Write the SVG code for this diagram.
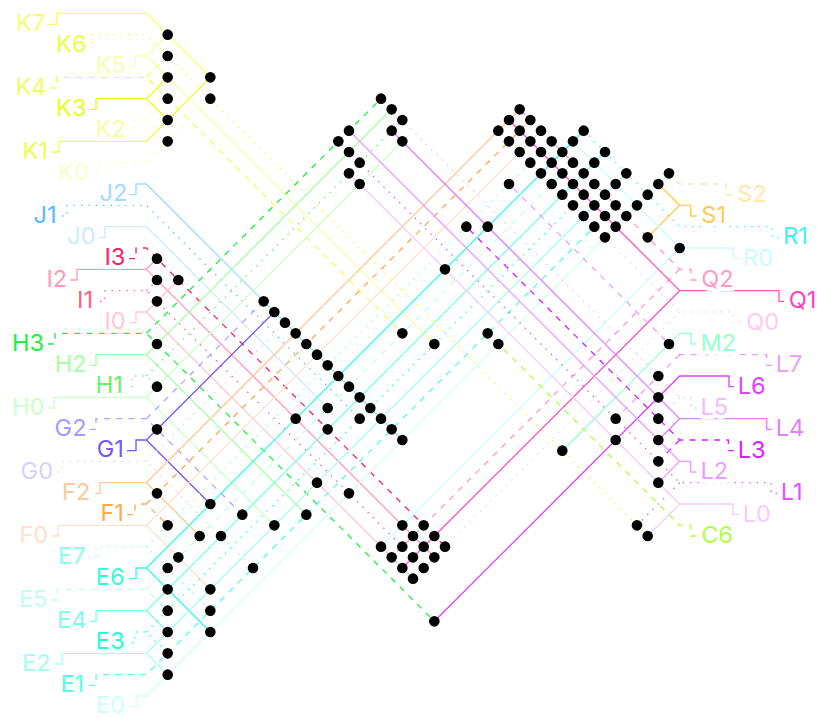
<svg xmlns="http://www.w3.org/2000/svg" width="817" height="717" viewBox="0 0 817 717">
<style>
.w{fill:none;stroke-width:1.33}
.da{stroke-dasharray:6 6.3}
.do{stroke-dasharray:1.4 6}
.j{fill:#000}
text{font-family:Inter,"Noto Sans","Liberation Sans",sans-serif;font-size:23.5px;stroke:#fff;stroke-width:8px;stroke-linejoin:round;paint-order:stroke}
</style>
<rect width="817" height="717" fill="#fff"/>
<g id="connectors">
<path class="w" stroke="#f5ff70" d="M46.7 24.3H56.7V13.33H146.33l64 64"/>
<path class="w do" stroke="#ecff40" d="M87 45.3H92V34.67H146.33l501.33 501.33"/>
<path class="w" stroke="#f7ffb0" d="M130 66.7H135.5V56H146.33l288 288M146.33 56l21.33-21.33"/>
<path class="w da" stroke="#f0ff60" d="M50 88H56.5V77.33H146.33l256 256M146.33 77.33l21.33-21.33"/>
<path class="w" stroke="#e8ff1a" d="M89.5 109.3H96V98.67H146.33l21.33 21.33M146.33 98.67l21.33-21.33"/>
<path class="w do" stroke="#f5ffa0" d="M130 130.7H134V120H146.33l21.33 21.33M146.33 120l21.33-21.33"/>
<path class="w" stroke="#ecff50" d="M51 152H59V141.33H146.33l64-64"/>
<path class="w da" stroke="#f9ffc8" d="M93 173.3H99V162.67H146.33l64-64"/>
<path class="w" stroke="#a0dcff" d="M129 194.7H136V184H146.33l256 256"/>
<path class="w do" stroke="#55bbff" d="M62 216H67V205.33H146.33l213.33 213.33"/>
<path class="w" stroke="#cdeaff" d="M98 237.3H105V226.67H146.33l181.33 181.33"/>
<path class="w da" stroke="#ff2266" d="M129 258.7H136V248H146.33l298.67 298.67"/>
<path class="w" stroke="#ff9ab8" d="M70 280H77V269.33H146.33l288 288M146.33 269.33l10.67-10.67"/>
<path class="w do" stroke="#ff5c8f" d="M100 301.3H105V290.67H146.33l277.33 277.33M146.33 290.67l10.67-10.67"/>
<path class="w" stroke="#ffc8d8" d="M129.5 322.7H136V312H146.33l266.67 266.67M146.33 312l32-32"/>
<path class="w da" stroke="#22ee44" d="M48 344H55V333.33H146.33l288 288M146.33 333.33l234.67-234.67"/>
<path class="w" stroke="#a8ffaa" d="M90 365.3H96V354.67H146.33l160 160M146.33 354.67l245.33-245.33"/>
<path class="w do" stroke="#66f066" d="M131 386.7H132V376H146.33l10.67 10.67M146.33 376l256-256"/>
<path class="w" stroke="#ccffcc" d="M48 408H54V397.33H146.33l128 128M146.33 397.33l256-256"/>
<path class="w da" stroke="#b0a4ff" d="M90 429.3H96V418.67H146.33l96 96M146.33 418.67l117.33-117.33"/>
<path class="w" stroke="#7755ee" d="M127 450.7H136V440H146.33l64 64M146.33 440l128-128"/>
<path class="w do" stroke="#d8d0ff" d="M58 472H62V461.33H146.33l106.67 106.67M146.33 461.33l138.67-138.67"/>
<path class="w" stroke="#ffc898" d="M95 493.3H100V482.67H146.33l53.33 53.33M146.33 482.67l373.33-373.33"/>
<path class="w da" stroke="#ffaa55" d="M127 514.7H135V504H146.33l21.33 21.33M146.33 504l384-384"/>
<path class="w" stroke="#ffe0cc" d="M52 536H58V525.33H146.33l64 64M146.33 525.33l394.67-394.67"/>
<path class="w do" stroke="#90ffe8" d="M89 557.3H96V546.67H146.33l64 64M146.33 546.67l405.33-405.33"/>
<path class="w" stroke="#33ffdd" d="M129 578.7H136V568H146.33l64 64M146.33 568l437.33-437.33"/>
<path class="w da" stroke="#c0fff0" d="M52 600H57V589.33H146.33l21.33 21.33M146.33 589.33l426.67-426.67"/>
<path class="w" stroke="#80ffe8" d="M90 621.3H96V610.67H146.33l21.33 21.33M146.33 610.67l458.67-458.67"/>
<path class="w do" stroke="#22ffd8" d="M132 642.7H135V632H146.33l21.33 21.33M146.33 632l448-448"/>
<path class="w" stroke="#a8fff0" d="M55 664H62V653.33H146.33l21.33 21.33M146.33 653.33l480-480"/>
<path class="w da" stroke="#55ffe0" d="M89 685.3H96V674.67H146.33l469.33-469.33"/>
<path class="w" stroke="#d0fff4" d="M129 706.7H136V696H146.33l522.67-522.67"/>
<path class="w da" stroke="#ffe8aa" d="M732 195H726V184H679.67l-10.67-10.67"/>
<path class="w" stroke="#ffcc55" d="M696.5 216H690.7V205.33H679.67l-21.33-21.33M679.67 205.33l-32 32"/>
<path class="w do" stroke="#44f0ff" d="M779 237.3H772V226.67H679.67l-96-96"/>
<path class="w" stroke="#ccfbff" d="M739 258.7H733.3V248H679.67l-106.67-106.67M679.67 248l-298.67 298.67"/>
<path class="w da" stroke="#ff99cc" d="M696.5 280H691V269.33H679.67l-160-160M679.67 269.33l-288 288"/>
<path class="w" stroke="#ff55bb" d="M784 301.3H779V290.67H679.67l-170.67-170.67M679.67 290.67l-277.33 277.33"/>
<path class="w do" stroke="#ffccee" d="M741 322.7H733V312H679.67l-181.33-181.33M679.67 312l-266.67 266.67"/>
<path class="w" stroke="#99ffcc" d="M696.5 344H691V333.33H679.67l-117.33 117.33"/>
<path class="w da" stroke="#e8a0ff" d="M772 365.3H766.7V354.67H679.67l-170.67-170.67M679.67 354.67l-64 64"/>
<path class="w" stroke="#dd44ff" d="M734 386.7H729V376H679.67l-245.33 245.33"/>
<path class="w do" stroke="#f0bbff" d="M696.5 408H691V397.33H679.67l-298.67-298.67M679.67 397.33l-21.33 21.33"/>
<path class="w" stroke="#e080ff" d="M772 429.3H766.7V418.67H679.67l-288-288M679.67 418.67l-21.33 21.33"/>
<path class="w da" stroke="#d822ff" d="M734 450.7H728.3V440H679.67l-213.33-213.33M679.67 440l-21.33 21.33"/>
<path class="w" stroke="#e8a0ff" d="M696.5 472H690.7V461.33H679.67l-330.67-330.67M679.67 461.33l-21.33 21.33"/>
<path class="w do" stroke="#dd55ff" d="M777 493.3H771V482.67H679.67l-341.33-341.33M679.67 482.67l-42.67 42.67"/>
<path class="w" stroke="#f4ccff" d="M739 514.7H733V504H679.67l-330.67-330.67M679.67 504l-32 32"/>
<path class="w da" stroke="#b0ff44" d="M696.5 536H690.7V525.33H679.67l-192-192"/>
</g>
<g id="junctions">
<circle class="j" r="5.3" cx="167.67" cy="34.67"/><circle class="j" r="5.3" cx="167.67" cy="56"/><circle class="j" r="5.3" cx="167.67" cy="77.33"/><circle class="j" r="5.3" cx="167.67" cy="98.67"/><circle class="j" r="5.3" cx="167.67" cy="120"/><circle class="j" r="5.3" cx="167.67" cy="141.33"/><circle class="j" r="5.3" cx="210.33" cy="77.33"/><circle class="j" r="5.3" cx="210.33" cy="98.67"/>
<circle class="j" r="5.3" cx="381" cy="98.67"/><circle class="j" r="5.3" cx="391.67" cy="109.33"/><circle class="j" r="5.3" cx="402.33" cy="120"/><circle class="j" r="5.3" cx="391.67" cy="130.67"/><circle class="j" r="5.3" cx="402.33" cy="141.33"/><circle class="j" r="5.3" cx="349" cy="130.67"/><circle class="j" r="5.3" cx="338.33" cy="141.33"/><circle class="j" r="5.3" cx="349" cy="152"/><circle class="j" r="5.3" cx="359.67" cy="162.67"/><circle class="j" r="5.3" cx="349" cy="173.33"/><circle class="j" r="5.3" cx="359.67" cy="184"/>
<circle class="j" r="5.3" cx="519.67" cy="109.33"/><circle class="j" r="5.3" cx="509" cy="120"/><circle class="j" r="5.3" cx="530.33" cy="120"/><circle class="j" r="5.3" cx="498.33" cy="130.67"/><circle class="j" r="5.3" cx="519.67" cy="130.67"/><circle class="j" r="5.3" cx="541" cy="130.67"/><circle class="j" r="5.3" cx="583.67" cy="130.67"/><circle class="j" r="5.3" cx="509" cy="141.33"/><circle class="j" r="5.3" cx="530.33" cy="141.33"/><circle class="j" r="5.3" cx="551.67" cy="141.33"/><circle class="j" r="5.3" cx="573" cy="141.33"/>
<circle class="j" r="5.3" cx="519.67" cy="152"/><circle class="j" r="5.3" cx="541" cy="152"/><circle class="j" r="5.3" cx="562.33" cy="152"/><circle class="j" r="5.3" cx="605" cy="152"/><circle class="j" r="5.3" cx="530.33" cy="162.67"/><circle class="j" r="5.3" cx="551.67" cy="162.67"/><circle class="j" r="5.3" cx="573" cy="162.67"/><circle class="j" r="5.3" cx="594.33" cy="162.67"/><circle class="j" r="5.3" cx="541" cy="173.33"/><circle class="j" r="5.3" cx="562.33" cy="173.33"/><circle class="j" r="5.3" cx="583.67" cy="173.33"/><circle class="j" r="5.3" cx="626.33" cy="173.33"/><circle class="j" r="5.3" cx="669" cy="173.33"/>
<circle class="j" r="5.3" cx="509" cy="184"/><circle class="j" r="5.3" cx="551.67" cy="184"/><circle class="j" r="5.3" cx="573" cy="184"/><circle class="j" r="5.3" cx="594.33" cy="184"/><circle class="j" r="5.3" cx="615.67" cy="184"/><circle class="j" r="5.3" cx="658.33" cy="184"/><circle class="j" r="5.3" cx="562.33" cy="194.67"/><circle class="j" r="5.3" cx="583.67" cy="194.67"/><circle class="j" r="5.3" cx="605" cy="194.67"/><circle class="j" r="5.3" cx="647.67" cy="194.67"/><circle class="j" r="5.3" cx="573" cy="205.33"/><circle class="j" r="5.3" cx="594.33" cy="205.33"/><circle class="j" r="5.3" cx="615.67" cy="205.33"/><circle class="j" r="5.3" cx="637" cy="205.33"/><circle class="j" r="5.3" cx="583.67" cy="216"/><circle class="j" r="5.3" cx="605" cy="216"/><circle class="j" r="5.3" cx="626.33" cy="216"/><circle class="j" r="5.3" cx="594.33" cy="226.67"/><circle class="j" r="5.3" cx="615.67" cy="226.67"/><circle class="j" r="5.3" cx="605" cy="237.33"/><circle class="j" r="5.3" cx="647.67" cy="237.33"/><circle class="j" r="5.3" cx="679.67" cy="248"/>
<circle class="j" r="5.3" cx="466.33" cy="226.67"/><circle class="j" r="5.3" cx="487.67" cy="226.67"/><circle class="j" r="5.3" cx="445" cy="269.33"/>
<circle class="j" r="5.3" cx="263.67" cy="301.33"/><circle class="j" r="5.3" cx="274.33" cy="312"/><circle class="j" r="5.3" cx="285" cy="322.67"/><circle class="j" r="5.3" cx="295.67" cy="333.33"/><circle class="j" r="5.3" cx="306.33" cy="344"/><circle class="j" r="5.3" cx="317" cy="354.67"/><circle class="j" r="5.3" cx="327.67" cy="365.33"/><circle class="j" r="5.3" cx="338.33" cy="376"/><circle class="j" r="5.3" cx="349" cy="386.67"/><circle class="j" r="5.3" cx="359.67" cy="397.33"/><circle class="j" r="5.3" cx="370.33" cy="408"/><circle class="j" r="5.3" cx="381" cy="418.67"/><circle class="j" r="5.3" cx="391.67" cy="429.33"/><circle class="j" r="5.3" cx="402.33" cy="440"/>
<circle class="j" r="5.3" cx="327.67" cy="408"/><circle class="j" r="5.3" cx="359.67" cy="418.67"/><circle class="j" r="5.3" cx="327.67" cy="429.33"/><circle class="j" r="5.3" cx="295.67" cy="418.67"/><circle class="j" r="5.3" cx="402.33" cy="333.33"/><circle class="j" r="5.3" cx="434.33" cy="344"/><circle class="j" r="5.3" cx="487.67" cy="333.33"/><circle class="j" r="5.3" cx="498.33" cy="344"/>
<circle class="j" r="5.3" cx="317" cy="482.67"/><circle class="j" r="5.3" cx="349" cy="493.33"/><circle class="j" r="5.3" cx="306.33" cy="514.67"/><circle class="j" r="5.3" cx="274.33" cy="525.33"/>
<circle class="j" r="5.3" cx="402.33" cy="525.33"/><circle class="j" r="5.3" cx="423.67" cy="525.33"/><circle class="j" r="5.3" cx="413" cy="536"/><circle class="j" r="5.3" cx="434.33" cy="536"/><circle class="j" r="5.3" cx="381" cy="546.67"/><circle class="j" r="5.3" cx="402.33" cy="546.67"/><circle class="j" r="5.3" cx="423.67" cy="546.67"/><circle class="j" r="5.3" cx="445" cy="546.67"/><circle class="j" r="5.3" cx="391.67" cy="557.33"/><circle class="j" r="5.3" cx="413" cy="557.33"/><circle class="j" r="5.3" cx="434.33" cy="557.33"/><circle class="j" r="5.3" cx="402.33" cy="568"/><circle class="j" r="5.3" cx="423.67" cy="568"/><circle class="j" r="5.3" cx="413" cy="578.67"/><circle class="j" r="5.3" cx="434.33" cy="621.33"/>
<circle class="j" r="5.3" cx="157" cy="258.67"/><circle class="j" r="5.3" cx="157" cy="280"/><circle class="j" r="5.3" cx="178.33" cy="280"/><circle class="j" r="5.3" cx="157" cy="301.33"/><circle class="j" r="5.3" cx="157" cy="344"/><circle class="j" r="5.3" cx="157" cy="386.67"/><circle class="j" r="5.3" cx="157" cy="429.33"/><circle class="j" r="5.3" cx="157" cy="493.33"/>
<circle class="j" r="5.3" cx="210.33" cy="504"/><circle class="j" r="5.3" cx="242.33" cy="514.67"/><circle class="j" r="5.3" cx="167.67" cy="525.33"/><circle class="j" r="5.3" cx="199.67" cy="536"/><circle class="j" r="5.3" cx="221" cy="536"/><circle class="j" r="5.3" cx="178.33" cy="557.33"/><circle class="j" r="5.3" cx="253" cy="568"/><circle class="j" r="5.3" cx="167.67" cy="568"/><circle class="j" r="5.3" cx="167.67" cy="589.33"/><circle class="j" r="5.3" cx="210.33" cy="589.33"/><circle class="j" r="5.3" cx="167.67" cy="610.67"/><circle class="j" r="5.3" cx="210.33" cy="610.67"/><circle class="j" r="5.3" cx="167.67" cy="632"/><circle class="j" r="5.3" cx="210.33" cy="632"/><circle class="j" r="5.3" cx="167.67" cy="653.33"/><circle class="j" r="5.3" cx="167.67" cy="674.67"/>
<circle class="j" r="5.3" cx="669" cy="344"/><circle class="j" r="5.3" cx="658.33" cy="376"/><circle class="j" r="5.3" cx="658.33" cy="397.33"/><circle class="j" r="5.3" cx="658.33" cy="418.67"/><circle class="j" r="5.3" cx="658.33" cy="440"/><circle class="j" r="5.3" cx="658.33" cy="461.33"/><circle class="j" r="5.3" cx="658.33" cy="482.67"/><circle class="j" r="5.3" cx="615.67" cy="418.67"/><circle class="j" r="5.3" cx="615.67" cy="440"/><circle class="j" r="5.3" cx="562.33" cy="450.67"/><circle class="j" r="5.3" cx="637" cy="525.33"/><circle class="j" r="5.3" cx="647.67" cy="536"/>
</g>
<g id="labels" transform="translate(0.8 0)">
<g id="K7"><text x="15.3" y="30.7" fill="#f5ff70">K7</text></g>
<g id="K6"><text x="55.3" y="52" fill="#ecff40">K6</text></g>
<g id="K5"><text x="94.7" y="73.3" fill="#f7ffb0">K5</text></g>
<g id="K4"><text x="14.7" y="94.7" fill="#f0ff60">K4</text></g>
<g id="K3"><text x="55.3" y="116" fill="#e8ff1a">K3</text></g>
<g id="K2"><text x="94.7" y="137.3" fill="#f5ffa0">K2</text></g>
<g id="K1"><text x="21.7" y="158.7" fill="#ecff50">K1</text></g>
<g id="K0"><text x="57.3" y="180" fill="#f9ffc8">K0</text></g>
<g id="J2"><text x="98.7" y="201.3" fill="#a0dcff">J2</text></g>
<g id="J1"><text x="32.7" y="222.7" fill="#55bbff">J1</text></g>
<g id="J0"><text x="66.5" y="244" fill="#cdeaff">J0</text></g>
<g id="I3"><text x="103.6" y="265.3" fill="#ff2266">I3</text></g>
<g id="I2"><text x="45.6" y="286.7" fill="#ff9ab8">I2</text></g>
<g id="I1"><text x="76.3" y="308" fill="#ff5c8f">I1</text></g>
<g id="I0"><text x="103.6" y="329.3" fill="#ffc8d8">I0</text></g>
<g id="H3"><text x="11.3" y="350.7" fill="#22ee44">H3</text></g>
<g id="H2"><text x="54" y="372" fill="#a8ffaa">H2</text></g>
<g id="H1"><text x="95" y="393.3" fill="#66f066">H1</text></g>
<g id="H0"><text x="11.3" y="414.7" fill="#ccffcc">H0</text></g>
<g id="G2"><text x="53.8" y="436" fill="#aa99ff">G2</text></g>
<g id="G1"><text x="96" y="457.3" fill="#7755ff">G1</text></g>
<g id="G0"><text x="19.8" y="478.7" fill="#d8d0ff">G0</text></g>
<g id="F2"><text x="61.3" y="500" fill="#ffc898">F2</text></g>
<g id="F1"><text x="99.7" y="521.3" fill="#ffaa44">F1</text></g>
<g id="F0"><text x="18.7" y="542.7" fill="#ffe0cc">F0</text></g>
<g id="E7"><text x="57.3" y="564" fill="#90ffe8">E7</text></g>
<g id="E6"><text x="95" y="585.3" fill="#33ffdd">E6</text></g>
<g id="E5"><text x="18" y="606.7" fill="#c0fff0">E5</text></g>
<g id="E4"><text x="56.3" y="628" fill="#80ffe8">E4</text></g>
<g id="E3"><text x="95" y="649.3" fill="#22ffd8">E3</text></g>
<g id="E2"><text x="21.3" y="670.7" fill="#a8fff0">E2</text></g>
<g id="E1"><text x="59.7" y="692" fill="#55ffe0">E1</text></g>
<g id="E0"><text x="95" y="713.3" fill="#d0fff4">E0</text></g>
<g id="S2"><text x="736.5" y="201.7" fill="#ffe8aa">S2</text></g>
<g id="S1"><text x="700.5" y="223" fill="#ffcc55">S1</text></g>
<g id="R1"><text x="782.3" y="244.3" fill="#44f0ff">R1</text></g>
<g id="R0"><text x="742.3" y="265.7" fill="#ccfbff">R0</text></g>
<g id="Q2"><text x="700.5" y="287" fill="#ff99cc">Q2</text></g>
<g id="Q1"><text x="788" y="308.3" fill="#ff44bb">Q1</text></g>
<g id="Q0"><text x="745.5" y="329.7" fill="#ffccee">Q0</text></g>
<g id="M2"><text x="699.6" y="351" fill="#99ffcc">M2</text></g>
<g id="L7"><text x="775" y="372.3" fill="#e8a0ff">L7</text></g>
<g id="L6"><text x="737" y="393.7" fill="#dd44ff">L6</text></g>
<g id="L5"><text x="699.6" y="415" fill="#f0bbff">L5</text></g>
<g id="L4"><text x="775" y="436.3" fill="#e080ff">L4</text></g>
<g id="L3"><text x="737" y="457.7" fill="#d822ff">L3</text></g>
<g id="L2"><text x="699.6" y="479" fill="#e8a0ff">L2</text></g>
<g id="L1"><text x="780" y="500.3" fill="#dd55ff">L1</text></g>
<g id="L0"><text x="742" y="521.7" fill="#f4ccff">L0</text></g>
<g id="C6"><text x="700.4" y="543" fill="#b0ff44">C6</text></g>
</g>
</svg>
